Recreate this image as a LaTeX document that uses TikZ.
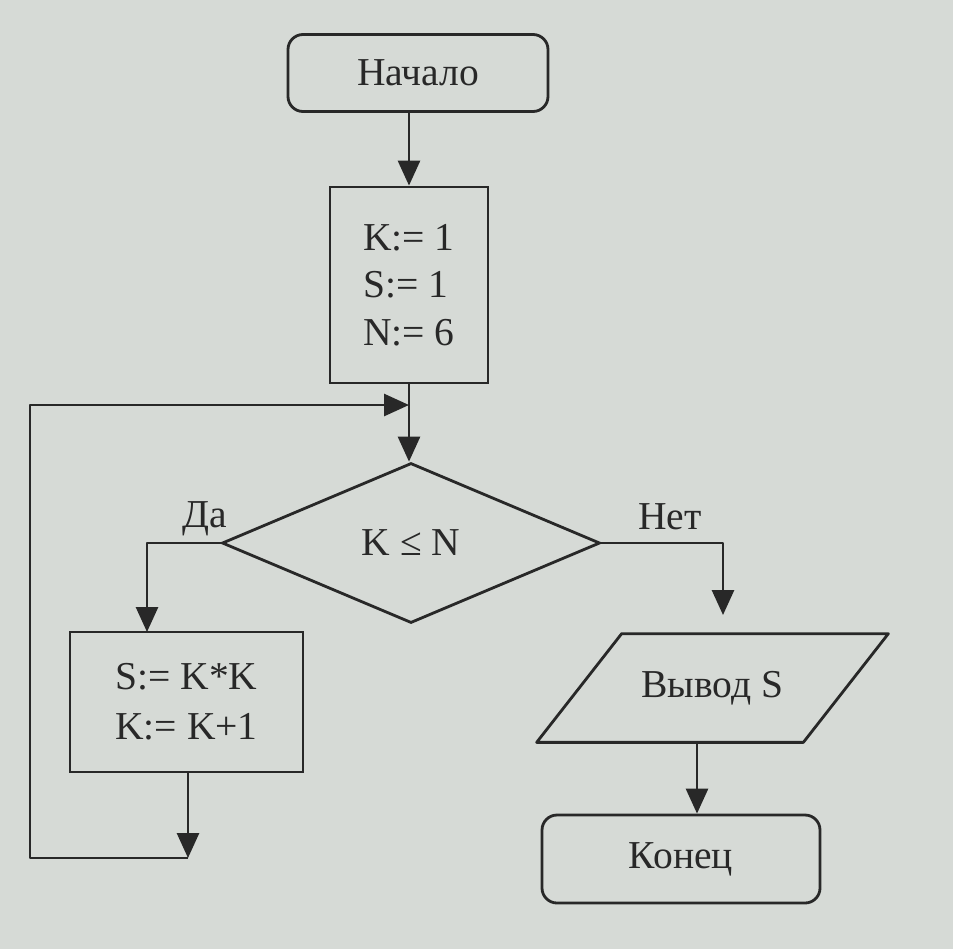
\documentclass[tikz,border=0pt]{standalone}
\usepackage{fontspec}
\setmainfont{Liberation Serif}
\usetikzlibrary{shapes.geometric,arrows.meta}
\definecolor{paper}{RGB}{214,218,214}
\definecolor{ink}{RGB}{40,40,40}

\begin{document}
\begin{tikzpicture}[every node/.style={font=\fontsize{22.5}{27}\selectfont,text=ink},
  startstop/.style={draw=ink,line width=1.6pt,rounded corners=0.3cm,minimum height=1.54cm},
  procbox/.style={draw=ink,line width=1.6pt,align=left},
  decide/.style={draw=ink,line width=1.6pt,diamond,minimum width=7.56cm,minimum height=3.2cm,inner sep=0pt},
  iobox/.style={minimum width=7.02cm,minimum height=2.16cm},
  line/.style={draw=ink,line width=1.6pt,line join=round},
  arr/.style={line,-{Triangle[width=0.44cm,length=0.5cm]}}]
  \useasboundingbox (0,0) rectangle (19.06,-18.98);
  \fill[paper] (0,0) rectangle (19.06,-18.98);

  \draw ( 8.36, -1.46) node[startstop,minimum width=5.2cm](start) {Начало};
  \draw ( 8.18, -5.70) node[procbox,minimum width=3.16cm,minimum height=3.92cm](init) {K:= 1\\S:= 1\\N:= 6};
  \draw ( 8.22,-10.86) node[decide](dia) {K ≤ N};
  \draw ( 3.73,-14.04) node[procbox,minimum width=4.66cm,minimum height=2.8cm,
                            font=\fontsize{22.5}{28.5}\selectfont](calc) {S:= K*K\\K:= K+1};
  \draw (14.25,-13.76) node[iobox](out) {Вывод S};
  \draw (13.62,-17.18) node[startstop,minimum width=5.56cm,minimum height=1.76cm](done) {Конец};

  \draw ( 4.10,-10.38) node[](yes) {Да};
  \draw (13.40,-10.34) node[](no)  {Нет};

  % parallelogram round the output node
  \path[line] ([xshift=1.7cm]out.north west) -- (out.north east)
              -- ([xshift=-1.7cm]out.south east) -- (out.south west) -- cycle;

  \coordinate (yesin)    at ( 2.94,-12.64);
  \coordinate (noend)    at (14.46,-12.30);
  \coordinate (outx)     at (13.94, 0);
  \coordinate (back)     at ( 3.76,-17.16);
  \coordinate (loopleft) at ( 0.60, -8.10);

  \path[arr] (start.south -| init.north) -- (init.north);
  \path[arr] (init.south) -- (init.south |- dia.north);

  \path[arr] (dia.west) -| (yesin);
  \path[arr] (dia.east) -| (noend);

  \path[arr] (calc.south -| back) -- (back);
  \path[arr] (back) -| (loopleft) -- (loopleft -| init.south);

  \path[arr] (out.south -| outx) -- (done.north -| outx);

\end{tikzpicture}
\end{document}
